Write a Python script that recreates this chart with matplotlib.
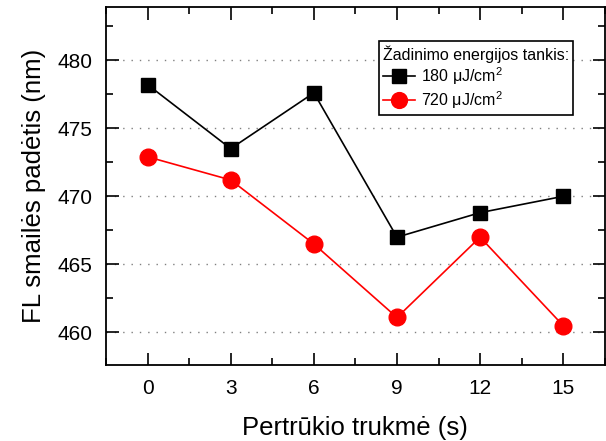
import numpy as np
import matplotlib
matplotlib.use('Agg')
from matplotlib import pyplot as plt
from matplotlib.ticker import MultipleLocator

plt.rcParams['font.family'] = ['Liberation Sans', 'DejaVu Sans']
plt.rcParams['mathtext.fontset'] = 'custom'
plt.rcParams['mathtext.rm'] = 'Liberation Sans'

pause_s = [0, 3, 6, 9, 12, 15]
peak_180 = [478.2, 473.5, 477.6, 467.0, 468.8, 470.0]
peak_720 = [472.9, 471.2, 466.5, 461.1, 467.0, 460.5]
labels = ['180 μJ/cm$^\\mathrm{2}$', '720 μJ/cm$^\\mathrm{2}$']

fig = plt.figure(figsize=(6.06, 4.41), dpi=100)
ax = fig.add_axes([0.175, 0.172, 0.823, 0.812])

ax.plot(pause_s, peak_180, '-s', color='black', lw=1.2, ms=10.5, label=labels[0], zorder=3)
ax.plot(pause_s, peak_720, '-o', color='red', lw=1.2, ms=12, label=labels[1], zorder=3)

ax.set_xlim(-1.5, 16.5)
ax.set_ylim(457.6, 483.9)
ax.xaxis.set_major_locator(MultipleLocator(3))
ax.xaxis.set_minor_locator(MultipleLocator(1.5))
ax.yaxis.set_major_locator(MultipleLocator(5))
ax.yaxis.set_minor_locator(MultipleLocator(2.5))
ax.tick_params(which='both', direction='in', top=True, right=True, width=1.2)
ax.tick_params(which='major', length=9, labelsize=15, pad=10)
ax.tick_params(which='minor', length=5)
for s in ax.spines.values():
    s.set_linewidth(1.3)

ax.grid(axis='y', which='major', color='gray', linestyle=(0, (1, 5)), lw=1)

ax.set_xlabel('Pertrūkio trukmė (s)', fontsize=18.5, labelpad=13)
ax.set_ylabel('FL smailės padėtis (nm)', fontsize=18.5, labelpad=8)

leg = ax.legend(title='Žadinimo energijos tankis:', loc='upper right',
                bbox_to_anchor=(0.936, 0.905), borderaxespad=0,
                fontsize=11.5, title_fontsize=11.5,
                fancybox=False, framealpha=1, edgecolor='black',
                handlelength=2.0, handletextpad=0.4, borderpad=0.25,
                labelspacing=0.15, markerscale=0.95, alignment='left')
leg.get_frame().set_linewidth(1.2)

plt.savefig('out.png', dpi=100)
